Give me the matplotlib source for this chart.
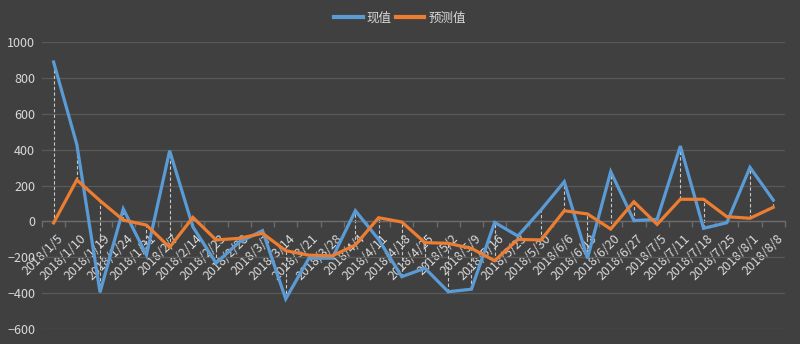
import matplotlib
matplotlib.use("Agg")
import matplotlib.pyplot as plt
import matplotlib.transforms as mtransforms
from matplotlib.ticker import FixedLocator

plt.rcParams['font.family'] = ['Noto Sans CJK SC', 'DejaVu Sans']

dates = ['2018/1/5', '2018/1/10', '2018/1/19', '2018/1/24', '2018/1/31', '2018/2/7',
         '2018/2/14', '2018/2/23', '2018/2/28', '2018/3/7', '2018/3/14', '2018/3/21',
         '2018/3/28', '2018/4/4', '2018/4/11', '2018/4/18', '2018/4/25', '2018/5/2',
         '2018/5/9', '2018/5/16', '2018/5/23', '2018/5/30', '2018/6/6', '2018/6/13',
         '2018/6/20', '2018/6/27', '2018/7/5', '2018/7/11', '2018/7/18', '2018/7/25',
         '2018/8/1', '2018/8/8']
actual = [890, 430, -395, 70, -187, 395, -30, -232, -115, -51, -432, -205,
          -205, 60, -100, -308, -261, -392, -378, -5, -81, 65, 222, -205,
          278, 5, 12, 421, -38, -7, 302, 120]
predicted = [-8, 232, 116, 8, -20, -144, 23, -103, -94, -66, -163, -188,
             -192, -131, 21, -3, -118, -122, -150, -219, -100, -103, 60, 42,
             -42, 110, -16, 124, 124, 27, 18, 79]

bg = '#404040'
txt = '#d9d9d9'

fig = plt.figure(figsize=(8, 3.44), dpi=100, facecolor=bg)
ax = fig.add_axes([0.0525, 0.0436, 0.9285, 0.8334], facecolor=bg)

x = list(range(len(dates)))

# high-low lines between the two series
for i in x:
    lo, hi = sorted((actual[i], predicted[i]))
    ax.vlines(i, lo, hi, colors='#c8c8c8', linestyles=(0, (3, 2)), linewidth=0.8, zorder=2)

ax.plot(x, actual, color='#5b9bd5', linewidth=2.3, label='现值', zorder=3,
        solid_joinstyle='miter')
ax.plot(x, predicted, color='#ed7d31', linewidth=2.3, label='预测值', zorder=4,
        solid_joinstyle='miter')

ax.set_xlim(-0.5, len(dates) - 0.5)
ax.set_ylim(-600, 1000)
ax.set_yticks(range(-600, 1001, 200))
ax.grid(axis='y', color='#595959', linewidth=0.9)
ax.set_axisbelow(True)

for s in ['top', 'right', 'left']:
    ax.spines[s].set_visible(False)
ax.spines['bottom'].set_position(('data', 0))
ax.spines['bottom'].set_color('#6b6b6b')
ax.spines['bottom'].set_linewidth(1.0)

ax.set_xticks(x)
ax.set_xticklabels(dates, rotation=45, ha='right', va='top', rotation_mode='anchor',
                   fontsize=9, color=txt)
ax.tick_params(axis='x', which='major', length=0, pad=4)
# nudge the date labels down and to the right of each point
shift = mtransforms.ScaledTranslation(3 / 100, -5 / 100, fig.dpi_scale_trans)
for lbl in ax.get_xticklabels():
    lbl.set_transform(lbl.get_transform() + shift)
ax.xaxis.set_minor_locator(FixedLocator([i - 0.5 for i in range(len(dates) + 1)]))
ax.tick_params(axis='x', which='minor', length=4, color='#6b6b6b', width=1.0)
ax.tick_params(axis='y', length=0, labelsize=9, labelcolor=txt, pad=5)

handles, labels = ax.get_legend_handles_labels()
leg = fig.legend(handles, labels, loc='center', bbox_to_anchor=(0.5, 1 - 18 / 344),
                 ncol=2, frameon=False, fontsize=9, handlelength=2.3,
                 columnspacing=0.3, handletextpad=0.3)
for t in leg.get_texts():
    t.set_color(txt)
for h in leg.get_lines():
    h.set_linewidth(3)

fig.savefig('out.png', dpi=100, facecolor=bg)
